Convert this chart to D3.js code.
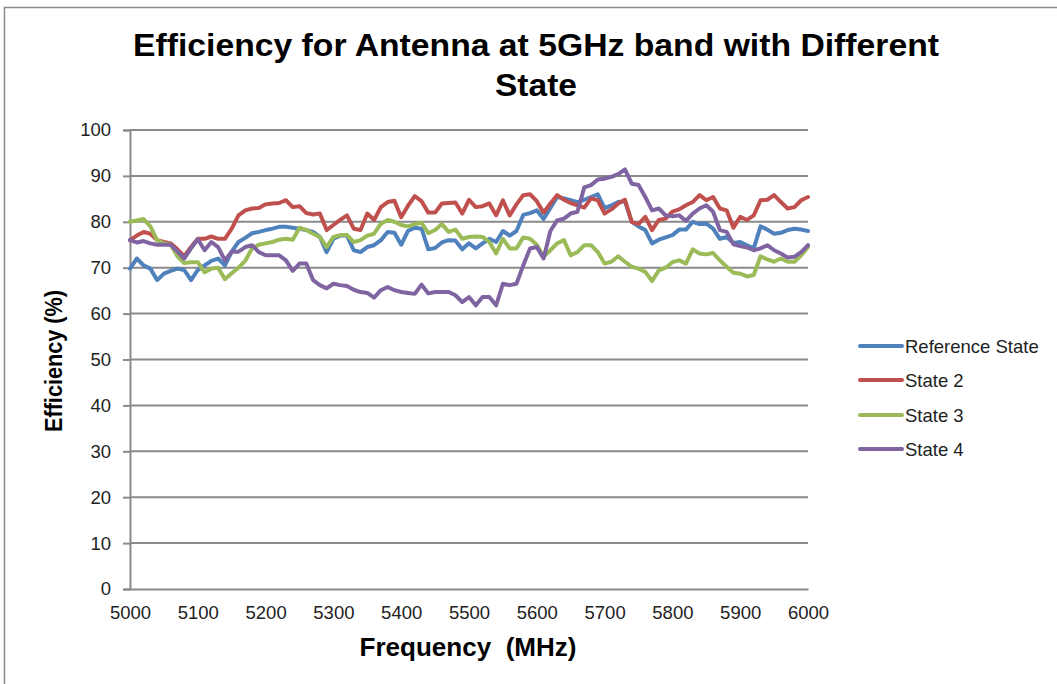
<!DOCTYPE html>
<html>
<head>
<meta charset="utf-8">
<script src="https://cdn.jsdelivr.net/npm/d3@7"></script>
<style>
  body { margin: 0; background: #fff; }
  svg { display: block; font-family: "Liberation Sans", Arial, sans-serif; }
</style>
</head>
<body>
<div id="chart"></div>
<script>
const freqs = [
  5000, 5010, 5020, 5030, 5040, 5050, 5060, 5070, 5080, 5090,
  5100, 5110, 5120, 5130, 5140, 5150, 5160, 5170, 5180, 5190,
  5200, 5210, 5220, 5230, 5240, 5250, 5260, 5270, 5280, 5290,
  5300, 5310, 5320, 5330, 5340, 5350, 5360, 5370, 5380, 5390,
  5400, 5410, 5420, 5430, 5440, 5450, 5460, 5470, 5480, 5490,
  5500, 5510, 5520, 5530, 5540, 5550, 5560, 5570, 5580, 5590,
  5600, 5610, 5620, 5630, 5640, 5650, 5660, 5670, 5680, 5690,
  5700, 5710, 5720, 5730, 5740, 5750, 5760, 5770, 5780, 5790,
  5800, 5810, 5820, 5830, 5840, 5850, 5860, 5870, 5880, 5890,
  5900, 5910, 5920, 5930, 5940, 5950, 5960, 5970, 5980, 5990,
  6000
];

const refState = [
  69.8, 72, 70.5, 69.8, 67.3, 68.7, 69.3, 69.8, 69.5, 67.3,
  69.5, 70.5, 71.5, 72, 70.5, 73.5, 75.6, 76.5, 77.5, 77.8,
  78.2, 78.5, 78.9, 78.9, 78.7, 78.5, 78.2, 77.8, 76.7, 73.4,
  76.3, 77, 77, 73.8, 73.4, 74.5, 74.9, 76, 77.8, 77.6,
  75, 78, 78.7, 78.5, 74, 74.3, 75.5, 76, 75.9, 74,
  75.3, 74.2, 75.3, 76.3, 75.6, 78, 77, 78, 81.5, 81.9,
  82.5, 80.6, 83, 85.4, 85.1, 84.7, 84.3, 84.8, 85.4, 86,
  83, 83.6, 84.3, 84.5, 80, 79, 78.2, 75.3, 76.1, 76.6,
  77.1, 78.3, 78.3, 80, 79.5, 79.6, 78.5, 76.3, 76.7, 75.4,
  75.6, 74.9, 74.2, 79, 78.3, 77.4, 77.6, 78.2, 78.5, 78.3,
  78
];

const state2 = [
  76, 77, 77.8, 77.4, 76, 75.6, 75.3, 74, 72.5, 74.5,
  76.3, 76.3, 76.8, 76.3, 76.3, 78.5, 81.4, 82.5, 82.9, 83,
  83.8, 84, 84.1, 84.7, 83.2, 83.4, 81.9, 81.6, 81.8, 78.2,
  79.3, 80.4, 81.4, 78.5, 78.2, 81.8, 80.4, 83.2, 84.3, 84.6,
  81, 83.5, 85.6, 84.5, 82, 82, 84, 84.1, 84.2, 81.8,
  84.8, 83.2, 83.4, 84, 81.4, 84.7, 81.4, 83.8, 85.8, 86,
  84.5, 82, 84, 85.8, 84.8, 84.1, 83.6, 83.1, 85.1, 84.7,
  81.8, 82.7, 84, 84.8, 80, 79.5, 81.1, 78.2, 80.4, 80.7,
  82.2, 82.7, 83.6, 84.3, 85.8, 84.7, 85.4, 82.9, 82.5, 78.7,
  81.1, 80.4, 81.4, 84.7, 84.8, 85.8, 84.3, 82.9, 83.2, 84.7,
  85.4
];

const state3 = [
  80, 80.3, 80.6, 79, 76, 75.3, 75, 72.5, 71, 71.2,
  71.2, 69, 69.8, 70, 67.5, 68.8, 70, 71.5, 74.2, 75,
  75.3, 75.6, 76.1, 76.3, 76.1, 78.7, 78.2, 77.4, 76.7, 74.5,
  76.7, 77.1, 77.1, 75.6, 76, 77, 77.4, 79.6, 80.4, 80,
  79.3, 79, 79.5, 79.8, 77.5, 78.2, 79.5, 77.8, 78.3, 76.3,
  76.7, 76.8, 76.7, 75.6, 73.1, 76.3, 74.2, 74.2, 76.6, 76.3,
  75, 72.4, 73.8, 75.3, 76, 72.7, 73.4, 74.9, 74.9, 73.4,
  70.9, 71.3, 72.5, 71.3, 70.2, 69.8, 69.1, 67.1, 69.4, 70,
  71.2, 71.6, 70.9, 74, 73.1, 72.9, 73.2, 71.6, 70.2, 68.9,
  68.7, 68.1, 68.4, 72.5, 71.8, 71.3, 72, 71.3, 71.3, 72.7,
  74.5
];

const state4 = [
  76, 75.5, 75.8, 75.3, 75, 75, 75, 73.5, 72, 74.2,
  76.2, 73.8, 75.6, 74.5, 71.6, 73.5, 73.5, 74.5, 74.9, 73.4,
  72.7, 72.7, 72.7, 71.6, 69.3, 70.9, 70.9, 67.3, 66.2, 65.5,
  66.5, 66.2, 66, 65.2, 64.7, 64.5, 63.5, 65.1, 65.8, 65.1,
  64.7, 64.5, 64.3, 66.3, 64.4, 64.7, 64.7, 64.7, 64, 62.5,
  63.6, 61.8, 63.6, 63.6, 61.8, 66.5, 66.2, 66.5, 70.5, 74.2,
  74.5, 72, 78, 80.3, 80.7, 81.8, 82.2, 87.5, 88, 89.2,
  89.4, 89.8, 90.4, 91.4, 88.3, 88, 85.4, 82.5, 82.9, 81.4,
  81.2, 81.4, 80.2, 81.8, 82.9, 83.6, 82.2, 78.2, 77.8, 75.1,
  74.7, 74.4, 73.8, 74.2, 74.9, 73.8, 73.1, 72.2, 72.4, 73.4,
  74.9
];

const seriesNames = ["Reference State", "State 2", "State 3", "State 4"];
const seriesColors = ["#4f81bd", "#c0504d", "#9bbb59", "#8064a2"];
const xTicks = [5000, 5100, 5200, 5300, 5400, 5500, 5600, 5700, 5800, 5900, 6000];
const yTicks = [0, 10, 20, 30, 40, 50, 60, 70, 80, 90, 100];

const width = 1057;
const height = 684;
const plot = { left: 130, right: 808, top: 130, bottom: 589 };
const gridColor = "#8a8a8a";

const svg = d3.select("#chart")
  .append("svg")
  .attr("width", width)
  .attr("height", height);

// outer chart frame
svg.append("rect")
  .attr("x", 4.5)
  .attr("y", 7.5)
  .attr("width", 1070)
  .attr("height", 700)
  .attr("fill", "none")
  .attr("stroke", gridColor)
  .attr("stroke-width", 1.5);

const x = d3.scaleLinear().domain([5000, 6000]).range([plot.left, plot.right]);
const y = d3.scaleLinear().domain([0, 100]).range([plot.bottom, plot.top]);

// title
const title = svg.append("text")
  .attr("text-anchor", "middle")
  .attr("font-weight", "bold")
  .attr("font-size", 32)
  .attr("fill", "#000");
title.append("tspan")
  .attr("x", 536)
  .attr("y", 56)
  .attr("textLength", 806)
  .attr("lengthAdjust", "spacingAndGlyphs")
  .text("Efficiency for Antenna at 5GHz band with Different");
title.append("tspan")
  .attr("x", 536)
  .attr("y", 96)
  .attr("textLength", 82)
  .attr("lengthAdjust", "spacingAndGlyphs")
  .text("State");

// horizontal gridlines
svg.append("g")
  .selectAll("line")
  .data(yTicks.filter((d) => d > 0))
  .join("line")
  .attr("x1", plot.left)
  .attr("x2", plot.right)
  .attr("y1", (d) => y(d))
  .attr("y2", (d) => y(d))
  .attr("stroke", gridColor)
  .attr("stroke-width", 2);

// y axis
const yAxis = svg.append("g")
  .attr("transform", "translate(" + plot.left + ",0)")
  .call(d3.axisLeft(y).tickValues(yTicks).tickSize(7).tickPadding(12).tickFormat(d3.format("d")));
yAxis.select(".domain").attr("stroke", gridColor).attr("stroke-width", 2);
yAxis.selectAll(".tick line").attr("stroke", gridColor).attr("stroke-width", 2);
yAxis.selectAll(".tick text")
  .attr("font-family", "Liberation Sans, Arial, sans-serif")
  .attr("font-size", 18.5)
  .attr("fill", "#222");

// x axis
const xAxis = svg.append("g")
  .attr("transform", "translate(0," + plot.bottom + ")")
  .call(d3.axisBottom(x).tickValues(xTicks).tickSize(0).tickPadding(17).tickFormat(d3.format("d")));
xAxis.select(".domain").attr("stroke", gridColor).attr("stroke-width", 2);
xAxis.selectAll(".tick text")
  .attr("font-family", "Liberation Sans, Arial, sans-serif")
  .attr("font-size", 18.5)
  .attr("fill", "#222");

// axis titles
svg.append("text")
  .attr("x", 468)
  .attr("y", 656)
  .attr("text-anchor", "middle")
  .attr("font-weight", "bold")
  .attr("font-size", 25)
  .attr("textLength", 217)
  .attr("lengthAdjust", "spacingAndGlyphs")
  .style("white-space", "pre")
  .text("Frequency  (MHz)");

svg.append("text")
  .attr("transform", "translate(62,361) rotate(-90)")
  .attr("text-anchor", "middle")
  .attr("font-weight", "bold")
  .attr("font-size", 23)
  .attr("textLength", 142)
  .attr("lengthAdjust", "spacingAndGlyphs")
  .text("Efficiency (%)");

// series lines
const series = [refState, state2, state3, state4].map((vals, i) => ({
  name: seriesNames[i],
  color: seriesColors[i],
  points: freqs.map((f, j) => ({ f: f, v: vals[j] }))
}));

const line = d3.line()
  .x((d) => x(d.f))
  .y((d) => y(d.v));

svg.append("g")
  .selectAll("path")
  .data(series)
  .join("path")
  .attr("d", (d) => line(d.points))
  .attr("fill", "none")
  .attr("stroke", (d) => d.color)
  .attr("stroke-width", 4)
  .attr("stroke-linejoin", "round")
  .attr("stroke-linecap", "round");

// legend
const legendRows = [346, 380, 415, 449];
const legend = svg.append("g")
  .selectAll("g")
  .data(series)
  .join("g")
  .attr("transform", (d, i) => "translate(860," + legendRows[i] + ")");

legend.append("line")
  .attr("x1", 0)
  .attr("x2", 42)
  .attr("stroke", (d) => d.color)
  .attr("stroke-width", 4)
  .attr("stroke-linecap", "round");

legend.append("text")
  .attr("x", 45)
  .attr("dy", "0.36em")
  .attr("font-size", 18.5)
  .attr("fill", "#222")
  .text((d) => d.name);
</script>
</body>
</html>
